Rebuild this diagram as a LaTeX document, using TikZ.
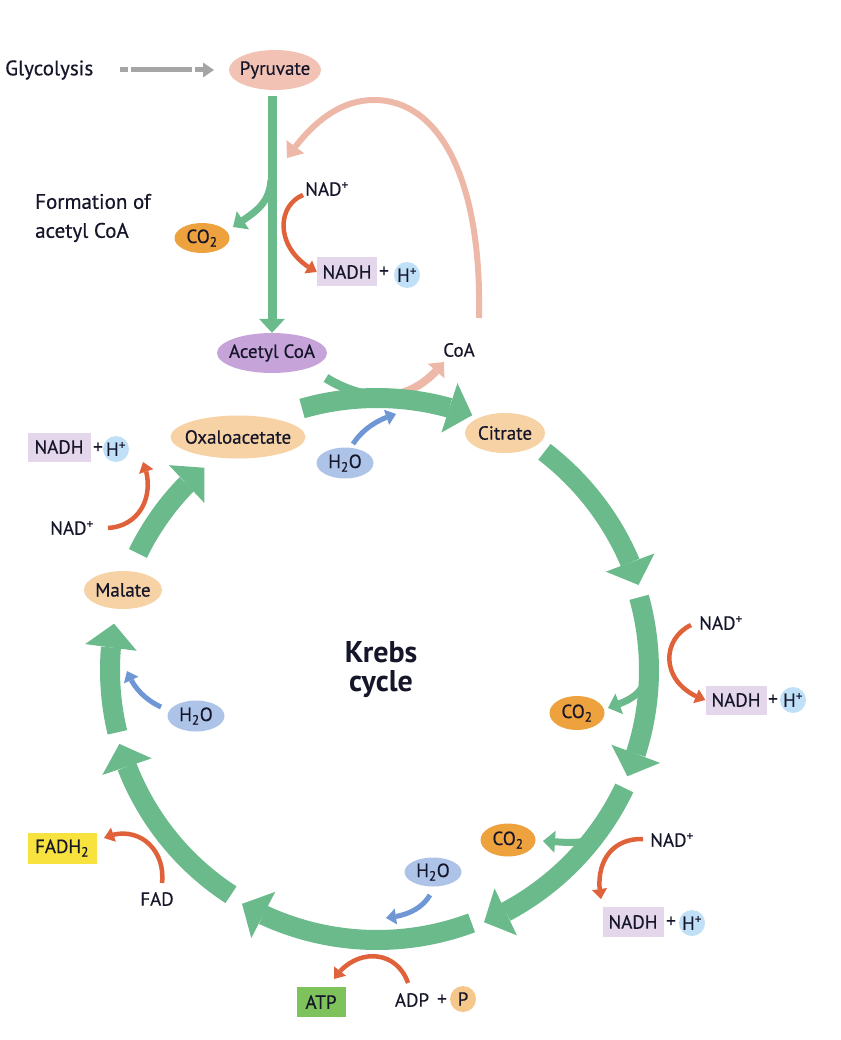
\documentclass[tikz,border=0pt]{standalone}
\usepackage{fontspec}
\setmainfont{PT Sans}
\newfontfamily\labfam{PT Sans}[FakeBold=0.5]
\usetikzlibrary{arrows.meta,bending,shapes.geometric,calc}
\definecolor{ktext}{HTML}{16162A}
\definecolor{kgreen}{HTML}{6BBA8C}
\definecolor{kpink}{HTML}{F2C3B5}
\definecolor{kpinkar}{HTML}{EDB8A8}
\definecolor{kred}{HTML}{E0623A}
\definecolor{ktan}{HTML}{F6D2A4}
\definecolor{korange}{HTML}{EDA23E}
\definecolor{kwater}{HTML}{AEC3E8}
\definecolor{kblue}{HTML}{6F97D6}
\definecolor{khplus}{HTML}{BFE0F7}
\definecolor{knadh}{HTML}{E4D7EC}
\definecolor{kyellow}{HTML}{F7E23E}
\definecolor{katp}{HTML}{7DC25B}
\definecolor{kpcirc}{HTML}{F5C78A}
\definecolor{kpurple}{HTML}{C6A4D9}
\definecolor{kgray}{HTML}{A5A5A5}
\begin{document}
\begin{tikzpicture}[x=1pt,y=-1pt,
  lab/.style={font=\labfam\fontsize{19}{22}\selectfont, text=ktext},
  biglab/.style={font=\labfam\fontsize{21}{29}\selectfont, text=ktext},
  ell/.style={ellipse, inner xsep=-6pt, inner ysep=0pt, lab},
  tanE/.style={ell, fill=ktan},
  coE/.style={ell, fill=korange, minimum width=55pt, minimum height=32pt},
  waterE/.style={ell, fill=kwater, minimum width=57pt, minimum height=31pt},
  nadbox/.style={rectangle, fill=knadh, inner sep=0pt, minimum width=61pt, minimum height=29pt, lab},
  hcirc/.style={circle, fill=khplus, inner sep=0pt, minimum size=26pt, lab},
  cyc/.style={draw=kgreen, line width=20pt, -{Triangle[width=52pt,length=24pt,line width=0pt]}},
  brn/.style={draw=kgreen, line width=7pt, -{Triangle[width=22pt,length=12pt,line width=0pt]}},
  redar/.style={draw=kred, line width=4.5pt, -{Triangle[width=15pt,length=10pt,line width=0pt]}},
  bluar/.style={draw=kblue, line width=5pt, -{Triangle[width=16pt,length=10pt,line width=0pt]}},
  pinkar/.style={draw=kpinkar, line width=6pt, -{Triangle[width=22pt,length=14pt,line width=0pt]}},
]
\useasboundingbox (0,0) rectangle (840,1040);
\coordinate (C) at (377,670);

% ---------- top: glycolysis / pyruvate ----------
\node[biglab, anchor=west, inner sep=0pt] (gly) at (5,70) {Glycolysis};
\node[ell, fill=kpink, minimum width=92pt, minimum height=40pt] (pyr) at (275,70) {Pyruvate};
\coordinate (g0) at (120,70);
\coordinate (g1) at (214,70);
\draw[draw=kgray, line width=5pt, dash pattern=on 8pt off 3pt on 61pt off 3pt on 8pt off 20pt,
      -{Triangle[width=15pt,length=11pt,line width=0pt]}] (g0) -- (g1);

\node[biglab, align=left, anchor=west, inner sep=0pt] (form) at (35,218) {Formation of\\acetyl CoA};

\node[ell, fill=kpurple, minimum width=110pt, minimum height=40pt] (acoa) at (272,353) {Acetyl CoA};
\coordinate (v0) at (272,96);
\draw[draw=kgreen, line width=9pt, -{Triangle[width=26pt,length=14pt,line width=0pt]}] (v0) -- (acoa.north);

\node[coE, minimum height=30pt] (co2a) at (202,238) {CO\textsubscript{2}};
\coordinate (b0) at (271,180);
\coordinate (b0e) at (233,227);
\draw[brn] (b0) .. controls (269,205) and (255,212) .. (b0e);

\node[lab] (nad1) at (327,189) {NAD\textsuperscript{+}};
\node[nadbox, minimum width=60pt] (nadh1) at (347,272) {NADH};
\node[lab] (pl1) at (384,272) {+};
\node[hcirc] (h1) at (407,275) {H\textsuperscript{+}};
\coordinate (r1s) at (303,195);
\draw[redar] (r1s) .. controls (276,206) and (274,250) .. (nadh1.west);

\node[lab] (coa) at (459,350) {CoA};
\coordinate (k0) at (479,318);
\coordinate (k1) at (374,100);
\coordinate (k2) at (287,158);
\draw[pinkar] (k0) .. controls (482,180) and (440,100) .. (k1) .. controls (338,100) and (310,125) .. (k2);

% ---------- cycle nodes ----------
\node[tanE, minimum width=135pt, minimum height=43pt] (oxa) at (238,437) {Oxaloacetate};
\node[tanE, minimum width=80pt, minimum height=40pt] (cit) at (505,433) {Citrate};
\node[tanE, minimum width=78pt, minimum height=38pt] (mal) at (123,590) {Malate};

% small pink CoA release arrow (under green)
\coordinate (q0) at (385,396);
\coordinate (q1) at (444,362);
\draw[draw=kpinkar, line width=8pt, -{Triangle[width=22pt,length=12pt,line width=0pt]}] (q0) .. controls (410,394) and (428,382) .. (q1);

% ---------- cycle arrows ----------
\coordinate (s1) at ($(C)+(-106:272)$);
\draw[cyc] (s1) arc[start angle=-106, end angle=-69.5, radius=272];
\coordinate (s2) at ($(C)+(-52.5:275)$);
\draw[cyc] (s2) arc[start angle=-52.5, end angle=-18, radius=275];
\coordinate (s3) at ($(C)+(-15.5:272)$);
\draw[cyc] (s3) arc[start angle=-15.5, end angle=23, radius=272];
\coordinate (s4) at ($(C)+(25.5:274)$);
\draw[cyc] (s4) arc[start angle=25.5, end angle=67, radius=274];
\coordinate (s5) at ($(C)+(69.5:270)$);
\draw[cyc] (s5) arc[start angle=69.5, end angle=120, radius=270];
\coordinate (s6) at ($(C)+(123:268)$);
\draw[cyc] (s6) arc[start angle=123, end angle=164, radius=268];
\coordinate (s7) at ($(C)+(166.5:267)$);
\draw[cyc] (s7) arc[start angle=166.5, end angle=190, radius=267];
\coordinate (s8) at ($(C)+(206:266)$);
\draw[cyc] (s8) arc[start angle=206, end angle=229.5, radius=266];

% acetyl CoA joining band
\coordinate (j0) at (326,378);
\coordinate (j1) at (398,399);
\draw[draw=kgreen, line width=9pt] (j0) .. controls (345,390) and (368,397) .. (j1);

% ---------- H2O near citrate ----------
\node[waterE] (w1) at (345,463) {H\textsubscript{2}O};
\coordinate (w1s) at (353,444);
\coordinate (w1e) at (396,414);
\draw[bluar] (w1s) .. controls (362,430) and (376,420) .. (w1e);

% ---------- right middle ----------
\node[coE, minimum height=34pt] (co2b) at (577,713) {CO\textsubscript{2}};
\coordinate (b3) at (647,670);
\coordinate (b3e) at (608,708);
\draw[brn] (b3) .. controls (645,695) and (630,700) .. (b3e);
\node[lab] (nad2) at (721,623) {NAD\textsuperscript{+}};
\node[nadbox] (nadh2) at (736,700) {NADH};
\node[lab] (pl2) at (773,700) {+};
\node[hcirc] (h2) at (793,700) {H\textsuperscript{+}};
\coordinate (r2s) at (691,625);
\draw[redar] (r2s) .. controls (660,640) and (660,685) .. (nadh2.west);

% ---------- right lower ----------
\node[coE, minimum height=33pt] (co2c) at (508,840) {CO\textsubscript{2}};
\coordinate (b4) at (598,834);
\coordinate (b4e) at (543,841);
\draw[brn] (b4) .. controls (585,846) and (565,842) .. (b4e);
\node[lab] (nad3) at (672,840) {NAD\textsuperscript{+}};
\node[nadbox, minimum height=30pt] (nadh3) at (633,922) {NADH};
\node[lab] (pl3) at (671,922) {+};
\node[hcirc] (h3) at (692,923) {H\textsuperscript{+}};
\coordinate (r3s) at (643,839);
\coordinate (r3e) at (601,899);
\draw[redar] (r3s) .. controls (610,838) and (594,865) .. (r3e);

% ---------- bottom ----------
\node[waterE, minimum height=29pt] (w3) at (433,872) {H\textsubscript{2}O};
\coordinate (w3s) at (430,895);
\coordinate (w3e) at (386,918);
\draw[bluar] (w3s) .. controls (421,910) and (405,916) .. (w3e);

\node[rectangle, fill=katp, inner sep=0pt, minimum width=49pt, minimum height=30pt, lab] (atp) at (321,1002) {ATP};
\node[lab] (adp) at (412,1000) {ADP};
\node[lab] (pl4) at (442,1000) {+};
\node[circle, fill=kpcirc, inner sep=0pt, minimum size=26pt, lab] (pc) at (463,999) {P};
\coordinate (r4s) at (408,983);
\coordinate (r4e) at (334,979);
\draw[redar] (r4s) .. controls (396,948) and (354,948) .. (r4e);

% ---------- left ----------
\node[rectangle, fill=kyellow, inner sep=0pt, minimum width=69pt, minimum height=31pt, lab] (fadh) at (62,848) {FADH\textsubscript{2}};
\node[lab] (fad) at (157,899) {FAD};
\coordinate (r5s) at (162,883);
\coordinate (r5e) at (104,838);
\draw[redar] (r5s) .. controls (166,848) and (136,823) .. (r5e);

\node[waterE] (w2) at (196,716) {H\textsubscript{2}O};
\coordinate (w2s) at (161,707);
\coordinate (w2e) at (127,671);
\draw[bluar] (w2s) .. controls (148,701) and (134,690) .. (w2e);

\node[nadbox, minimum width=63pt] (nadh4) at (59,447) {NADH};
\node[lab] (pl4b) at (98,448) {+};
\node[hcirc] (h4) at (116,449) {H\textsuperscript{+}};
\node[lab] (nad4) at (72,528) {NAD\textsuperscript{+}};
\coordinate (r6s) at (108,528);
\coordinate (r6e) at (143,462);
\draw[redar] (r6s) .. controls (142,526) and (156,492) .. (r6e);

% ---------- centre ----------
\node[font=\fontsize{30}{29}\selectfont\bfseries, text=ktext, align=center] (krebs) at (381,670) {Krebs\\cycle};
\end{tikzpicture}
\end{document}
